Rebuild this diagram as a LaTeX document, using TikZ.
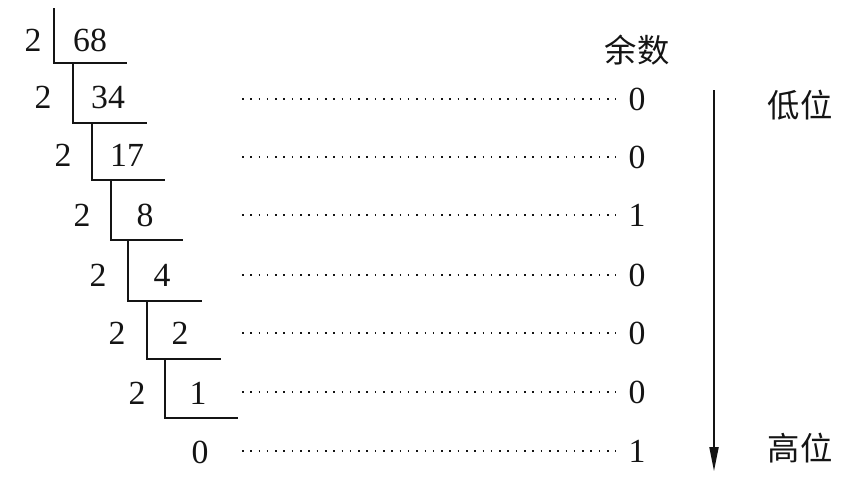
\documentclass[tikz,border=0pt]{standalone}
\usepackage{fontspec}
\setmainfont{Liberation Serif}
\newfontfamily\cjk{Noto Sans CJK SC}
\usepackage{tikz}
\usetikzlibrary{arrows.meta,positioning}
\definecolor{dvink}{RGB}{20,20,20}
\tikzstyle{num} = [inner sep=2pt, font=\fontsize{24}{27}\selectfont, text=dvink]
\tikzstyle{word} = [inner sep=2pt, font=\cjk\fontsize{23}{26}\selectfont, text=dvink]
\tikzstyle{bar} = [line width=1.3pt, color=dvink]
\tikzstyle{dotline} = [line width=1.1pt, dash pattern=on 1.1pt off 4.8pt, color=dvink, shorten >=7pt]
\tikzstyle{arrow} = [line width=1pt, color=dvink, -{Triangle[length=17pt,width=6.5pt]}]

\begin{document}
\begin{tikzpicture}[x=0.025cm, y=-0.025cm]
\useasboundingbox (0,0) rectangle (860,488);

% Divisors and quotients
\node (d1) [num] at (33,40) {2};
\node (q1) [num] at (90,40) {68};
\node (d2) [num] at (43,97) {2};
\node (q2) [num] at (108,97) {34};
\node (d3) [num] at (63,155) {2};
\node (q3) [num] at (127,155) {17};
\node (d4) [num] at (82,215) {2};
\node (q4) [num] at (145,215) {8};
\node (d5) [num] at (98,275) {2};
\node (q5) [num] at (162,275) {4};
\node (d6) [num] at (117,333) {2};
\node (q6) [num] at (180,333) {2};
\node (d7) [num] at (137,393) {2};
\node (q7) [num] at (198,393) {1};
\node (q8) [num] at (200,452) {0};

% Division brackets
\draw[bar] (54,8) |- (127,63);
\draw[bar] (73,63) |- (147,123);
\draw[bar] (92,123) |- (165,180);
\draw[bar] (111,180) |- (183,240);
\draw[bar] (128,240) |- (202,301);
\draw[bar] (147,301) |- (221,359);
\draw[bar] (165,359) |- (238,418);

% Remainders
\node (head) [word] at (637,50) {余数};
\node (r2) [num] at (637,99) {0};
\node (r3) [num] at (637,157) {0};
\node (r4) [num] at (637,215) {1};
\node (r5) [num] at (637,275) {0};
\node (r6) [num] at (637,333) {0};
\node (r7) [num] at (637,392) {0};
\node (r8) [num] at (637,451) {1};

% Dotted leaders
\coordinate (dstart) at (242,0);
\draw[dotline] (r2.west -| dstart) -- (r2.west);
\draw[dotline] (r3.west -| dstart) -- (r3.west);
\draw[dotline] (r4.west -| dstart) -- (r4.west);
\draw[dotline] (r5.west -| dstart) -- (r5.west);
\draw[dotline] (r6.west -| dstart) -- (r6.west);
\draw[dotline] (r7.west -| dstart) -- (r7.west);
\draw[dotline] (r8.west -| dstart) -- (r8.west);

% Order of bits
\node (low) [word] at (800,105) {低位};
\node (high) [word] at (800,448) {高位};
\coordinate (atop) at (714,90);
\coordinate (abot) at (714,471);
\draw[arrow] (atop) -- (abot);
\end{tikzpicture}
\end{document}
